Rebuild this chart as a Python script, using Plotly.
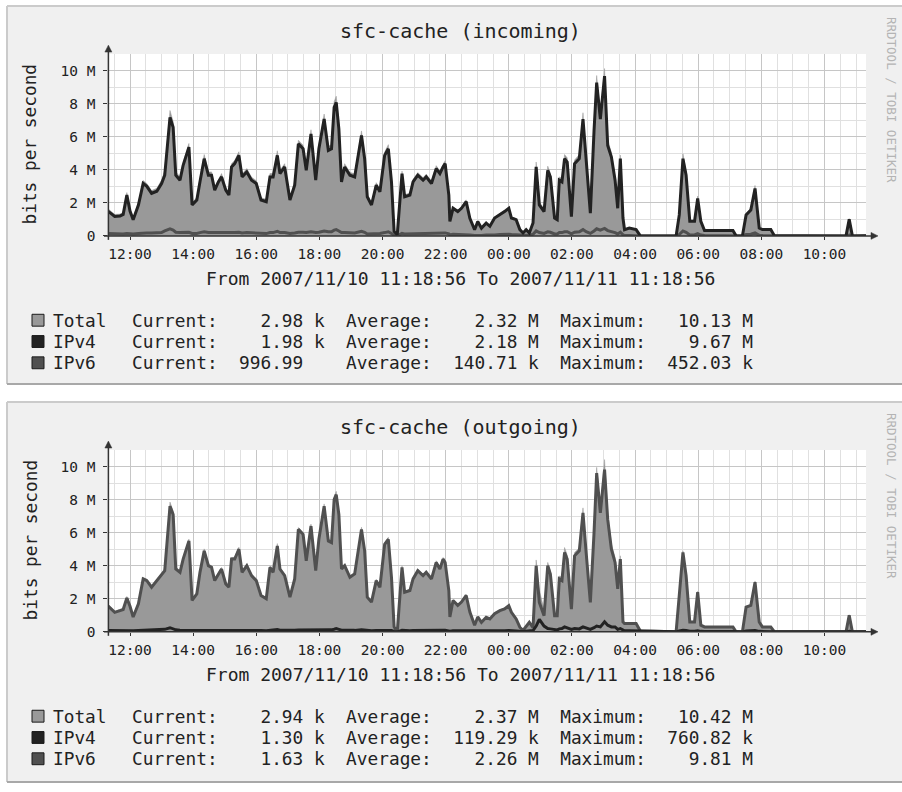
import pandas as pd
import plotly.graph_objects as go

W, H = 902, 792
MONO = "DejaVu Sans Mono"

# ---- samples (clock time, Mbit/s) ---------------------------------------
clock = [
    "11:18", "11:31", "11:41", "11:47", "11:54", "12:00", "12:06", "12:16", "12:25", "12:32",
    "12:41", "12:51", "13:00", "13:06", "13:16", "13:22", "13:27", "13:35", "13:41", "13:52",
    "13:58", "14:07", "14:13", "14:21", "14:29", "14:35", "14:41", "14:48", "14:54", "15:02",
    "15:08", "15:13", "15:19", "15:27", "15:33", "15:42", "15:51", "16:00", "16:09", "16:19",
    "16:26", "16:32", "16:40", "16:45", "16:54", "17:04", "17:13", "17:20", "17:29", "17:35",
    "17:44", "17:53", "17:59", "18:09", "18:17", "18:23", "18:28", "18:32", "18:37", "18:42",
    "18:48", "18:58", "19:07", "19:20", "19:26", "19:31", "19:39", "19:48", "19:55", "20:04",
    "20:11", "20:17", "20:22", "20:28", "20:37", "20:42", "20:52", "20:58", "21:07", "21:17",
    "21:23", "21:33", "21:42", "21:49", "21:55", "21:59", "22:06", "22:08", "22:14", "22:23",
    "22:30", "22:39", "22:46", "22:55", "23:01", "23:08", "23:17", "23:24", "23:33", "23:43",
    "23:52", "00:00", "00:05", "00:14", "00:21", "00:27", "00:33", "00:39", "00:46", "00:52",
    "00:58", "01:07", "01:14", "01:19", "01:27", "01:32", "01:36", "01:41", "01:46", "01:51",
    "01:59", "02:05", "02:14", "02:21", "02:27", "02:35", "02:42", "02:47", "02:54", "03:02",
    "03:08", "03:15", "03:22", "03:27", "03:32", "03:37", "03:40", "03:49", "04:02", "04:10",
    "05:18", "05:24", "05:31", "05:37", "05:44", "05:53", "05:59", "06:05", "06:12", "07:06",
    "07:12", "07:24", "07:31", "07:40", "07:48", "07:56", "08:02", "08:18", "08:25", "10:41",
    "10:47", "10:53", "11:19",
]

in_ipv4 = [
    1.50, 1.18, 1.20, 1.30, 2.47, 1.50, 0.98, 1.87, 3.17, 3.00,
    2.57, 2.70, 3.17, 3.67, 7.17, 6.57, 3.67, 3.37, 4.27, 5.37,
    1.87, 2.17, 3.27, 4.67, 3.67, 3.67, 2.77, 3.27, 3.57, 2.77,
    2.47, 4.17, 4.37, 4.87, 3.57, 3.87, 3.37, 3.17, 2.17, 2.07,
    3.57, 3.57, 4.87, 3.77, 4.17, 2.17, 3.07, 5.57, 5.27, 3.97,
    6.17, 3.37, 5.27, 7.07, 5.17, 5.27, 7.77, 8.07, 6.47, 3.27,
    4.17, 3.67, 3.57, 6.07, 4.67, 2.37, 1.87, 3.07, 2.67, 4.87,
    5.27, 3.27, 0.27, 0.07, 3.77, 2.37, 2.47, 3.27, 3.67, 3.37,
    3.57, 3.17, 4.07, 3.77, 4.17, 4.37, 2.47, 0.87, 1.67, 1.47,
    1.67, 2.07, 1.07, 0.37, 0.87, 0.47, 0.77, 0.58, 1.08, 1.27,
    1.47, 1.67, 1.08, 0.98, 0.38, 0.18, 0.38, 0.18, 0.78, 4.17,
    1.87, 1.47, 3.97, 3.57, 1.08, 0.98, 3.37, 3.27, 4.67, 4.47,
    1.17, 4.37, 4.67, 7.07, 4.47, 1.37, 6.37, 9.27, 7.07, 9.67,
    5.47, 4.77, 3.37, 1.67, 4.67, 1.08, 0.38, 0.48, 0.38, 0.00,
    0.00, 1.27, 4.67, 3.67, 0.88, 0.88, 2.27, 0.88, 0.32, 0.32,
    0.00, 0.00, 1.27, 1.57, 2.87, 0.48, 0.38, 0.38, 0.00, 0.00,
    1.00, 0.00, 0.00198,
]

in_ipv6 = [
    0.15, 0.12, 0.12, 0.12, 0.15, 0.13, 0.12, 0.15, 0.18, 0.17,
    0.17, 0.18, 0.20, 0.30, 0.42, 0.35, 0.22, 0.20, 0.20, 0.22,
    0.15, 0.15, 0.20, 0.25, 0.20, 0.20, 0.18, 0.18, 0.20, 0.17,
    0.16, 0.20, 0.20, 0.22, 0.18, 0.20, 0.18, 0.17, 0.14, 0.14,
    0.20, 0.20, 0.28, 0.20, 0.20, 0.15, 0.18, 0.22, 0.22, 0.20,
    0.25, 0.20, 0.22, 0.30, 0.25, 0.25, 0.35, 0.38, 0.30, 0.20,
    0.20, 0.18, 0.18, 0.28, 0.22, 0.12, 0.12, 0.15, 0.15, 0.20,
    0.25, 0.15, 0.03, 0.00, 0.15, 0.12, 0.13, 0.15, 0.16, 0.15,
    0.16, 0.15, 0.18, 0.16, 0.18, 0.18, 0.12, 0.05, 0.10, 0.09,
    0.10, 0.11, 0.06, 0.03, 0.05, 0.03, 0.05, 0.04, 0.06, 0.08,
    0.10, 0.10, 0.08, 0.06, 0.03, 0.02, 0.03, 0.02, 0.10, 0.30,
    0.20, 0.15, 0.25, 0.22, 0.12, 0.12, 0.20, 0.20, 0.25, 0.25,
    0.12, 0.22, 0.25, 0.38, 0.25, 0.15, 0.30, 0.43, 0.35, 0.45203,
    0.32, 0.28, 0.20, 0.12, 0.22, 0.06, 0.03, 0.03, 0.02, 0.00,
    0.00, 0.08, 0.30, 0.22, 0.06, 0.06, 0.14, 0.05, 0.02, 0.02,
    0.00, 0.00, 0.08, 0.10, 0.18, 0.03, 0.02, 0.02, 0.00, 0.00,
    0.05, 0.00, 0.000997,
]

out_ipv4 = [
    0.08, 0.07, 0.08, 0.08, 0.09, 0.08, 0.07, 0.08, 0.09, 0.09,
    0.09, 0.10, 0.10, 0.15, 0.25, 0.20, 0.12, 0.10, 0.10, 0.11,
    0.08, 0.08, 0.09, 0.12, 0.10, 0.10, 0.09, 0.09, 0.10, 0.09,
    0.08, 0.10, 0.11, 0.12, 0.10, 0.10, 0.09, 0.09, 0.08, 0.07,
    0.09, 0.09, 0.14, 0.10, 0.09, 0.08, 0.09, 0.11, 0.11, 0.10,
    0.12, 0.10, 0.11, 0.14, 0.12, 0.12, 0.16, 0.20, 0.15, 0.10,
    0.10, 0.09, 0.09, 0.13, 0.11, 0.07, 0.07, 0.08, 0.08, 0.10,
    0.12, 0.08, 0.02, 0.00, 0.09, 0.07, 0.07, 0.08, 0.09, 0.08,
    0.09, 0.08, 0.10, 0.09, 0.10, 0.10, 0.07, 0.04, 0.06, 0.06,
    0.06, 0.07, 0.05, 0.03, 0.04, 0.03, 0.04, 0.04, 0.05, 0.06,
    0.07, 0.08, 0.06, 0.05, 0.03, 0.02, 0.03, 0.05, 0.08, 0.35,
    0.76082, 0.35, 0.20, 0.18, 0.12, 0.12, 0.18, 0.20, 0.30, 0.25,
    0.15, 0.20, 0.18, 0.30, 0.22, 0.15, 0.25, 0.35, 0.30, 0.61,
    0.40, 0.30, 0.30, 0.15, 0.20, 0.10, 0.06, 0.06, 0.05, 0.02,
    0.00, 0.05, 0.10, 0.08, 0.04, 0.04, 0.06, 0.03, 0.02, 0.02,
    0.00, 0.00, 0.05, 0.05, 0.08, 0.03, 0.02, 0.02, 0.00, 0.00,
    0.04, 0.00, 0.0013,
]

out_ipv6 = [
    1.58, 1.18, 1.28, 1.35, 2.05, 1.55, 0.90, 1.70, 3.20, 3.10,
    2.70, 3.10, 3.40, 3.70, 7.60, 7.10, 3.80, 3.60, 4.40, 5.50,
    1.90, 2.30, 3.60, 4.90, 4.00, 3.90, 3.10, 3.50, 3.80, 2.90,
    2.70, 4.40, 4.40, 5.00, 3.60, 4.00, 3.40, 3.10, 2.20, 2.00,
    3.90, 3.60, 5.20, 3.80, 3.40, 2.10, 3.20, 6.20, 5.90, 4.30,
    6.40, 3.70, 5.60, 7.60, 5.50, 5.40, 8.00, 8.30, 7.10, 3.80,
    4.00, 3.30, 3.50, 6.20, 4.90, 2.10, 1.80, 3.10, 2.70, 5.30,
    5.60, 3.30, 0.30, 0.00, 3.90, 2.40, 2.50, 3.20, 3.70, 3.40,
    3.60, 3.20, 4.20, 3.80, 4.40, 4.20, 2.50, 0.90, 1.90, 1.60,
    1.80, 2.20, 1.20, 0.40, 0.90, 0.58, 0.88, 0.78, 1.10, 1.28,
    1.38, 1.58, 1.18, 0.78, 0.28, 0.08, 0.30, 0.58, 0.25, 4.00,
    1.78, 0.98, 4.00, 3.50, 0.98, 0.98, 3.20, 3.10, 4.80, 4.40,
    1.38, 4.60, 4.90, 7.20, 4.80, 1.78, 6.00, 9.60, 7.20, 9.81,
    6.80, 5.00, 4.20, 2.60, 4.40, 0.60, 0.50, 0.50, 0.50, 0.05,
    0.00, 2.20, 4.80, 3.40, 0.60, 0.60, 2.40, 0.40, 0.30, 0.30,
    0.00, 0.00, 1.50, 1.60, 3.00, 0.60, 0.30, 0.30, 0.00, 0.00,
    1.00, 0.00, 0.00163,
]

# ---- axis labels and legend statistics ----------------------------------
y_tick_vals = [0, 2, 4, 6, 8, 10]
y_tick_text = ["0", "2 M", "4 M", "6 M", "8 M", "10 M"]
titles = ["sfc-cache (incoming)", "sfc-cache (outgoing)"]
period_text = "From 2007/11/10 11:18:56 To 2007/11/11 11:18:56"
y_title = "bits per second"
watermark = "RRDTOOL / TOBI OETIKER"
legend_names = ["Total", "IPv4", "IPv6"]

in_current = [(2.98, "k"), (1.98, "k"), (996.99, "")]
in_average = [(2.32, "M"), (2.18, "M"), (140.71, "k")]
in_maximum = [(10.13, "M"), (9.67, "M"), (452.03, "k")]
out_current = [(2.94, "k"), (1.30, "k"), (1.63, "k")]
out_average = [(2.37, "M"), (119.29, "k"), (2.26, "M")]
out_maximum = [(10.42, "M"), (760.82, "k"), (9.81, "M")]

START = pd.Timestamp("2007-11-10 11:18:56")
END = pd.Timestamp("2007-11-11 11:18:56")

# ---- styling -------------------------------------------------------------
BACK = "#f0f0f0"
AREA = "#999999"
V4_COLOR = "#222222"
V6_COLOR = "#505050"
GRID_MAJOR = "#c6c6c6"
GRID_MINOR = "#e0e0e0"
AXIS = "#333333"
TEXT = "#222222"
LEGEND_COLORS = [AREA, V4_COLOR, V6_COLOR]
LINE_W = 3.0


def stamps(labels):
    """Turn HH:MM labels into timestamps, rolling over at midnight."""
    day = START.normalize()
    out, prev = [], None
    for lab in labels:
        h, m = (int(p) for p in lab.split(":"))
        t = day + pd.Timedelta(hours=h, minutes=m)
        if prev is not None and t < prev:
            day += pd.Timedelta(days=1)
            t += pd.Timedelta(days=1)
        out.append(t)
        prev = t
    return out


def px(x):
    return x / W


def py(y):
    return 1 - y / H


def fmt(value, prefix):
    return f"{value:8.2f} {prefix if prefix else ' '}"


times = stamps(clock)

panels = [
    dict(title=titles[0], v4=in_ipv4, v6=in_ipv6,
         cur=in_current, avg=in_average, mx=in_maximum, off=0, bottom=388),
    dict(title=titles[1], v4=out_ipv4, v6=out_ipv6,
         cur=out_current, avg=out_average, mx=out_maximum, off=400, bottom=790),
]

PLOT_L, PLOT_R = 108.4, 866.0
PLOT_T, PLOT_B = 54.6, 238.3

fig = go.Figure()
shapes, annotations = [], []
layout_axes = {}

for i, p in enumerate(panels):
    off = p["off"]
    sfx = "" if i == 0 else str(i + 1)
    xa, ya = "x" + sfx, "y" + sfx
    top, bot = PLOT_T + off, PLOT_B + off

    total = [a + b for a, b in zip(p["v4"], p["v6"])]
    fig.add_trace(go.Scatter(
        x=times, y=total, mode="lines", line=dict(width=0.5, color=AREA),
        fill="tozeroy", fillcolor=AREA, xaxis=xa, yaxis=ya, hoverinfo="skip"))
    fig.add_trace(go.Scatter(
        x=times, y=p["v6"], mode="lines", line=dict(width=LINE_W, color=V6_COLOR),
        xaxis=xa, yaxis=ya, hoverinfo="skip"))
    fig.add_trace(go.Scatter(
        x=times, y=p["v4"], mode="lines", line=dict(width=LINE_W, color=V4_COLOR),
        xaxis=xa, yaxis=ya, hoverinfo="skip"))

    layout_axes["xaxis" + sfx] = dict(
        type="date", range=[START, END], domain=[px(PLOT_L), px(PLOT_R)],
        anchor=ya, tick0="2007-11-10 12:00:00", dtick=2 * 3600 * 1000,
        tickformat="%H:%M", showgrid=True, gridcolor=GRID_MAJOR, gridwidth=1,
        minor=dict(tick0="2007-11-10 11:30:00", dtick=1800 * 1000, showgrid=True,
                   gridcolor=GRID_MINOR, gridwidth=1),
        ticks="outside", ticklen=3, tickcolor=AXIS, tickwidth=1,
        ticklabelstandoff=2,
        tickfont=dict(family=MONO, size=14.5, color=TEXT),
        showline=False, zeroline=False, fixedrange=True)
    layout_axes["yaxis" + sfx] = dict(
        range=[0, 11], domain=[py(bot), py(top)], anchor=xa,
        tickmode="array", tickvals=y_tick_vals, ticktext=y_tick_text,
        showgrid=True, gridcolor=GRID_MAJOR, gridwidth=1,
        minor=dict(tick0=0, dtick=1, showgrid=True, gridcolor=GRID_MINOR, gridwidth=1),
        ticks="outside", ticklen=4, tickcolor=AXIS, tickwidth=1,
        ticklabelstandoff=5,
        tickfont=dict(family=MONO, size=14.5, color=TEXT),
        showline=False, zeroline=False, fixedrange=True)

    # canvas and frame
    ptop = 6 + off
    shapes.append(dict(type="rect", xref="paper", yref="paper", layer="below",
                       x0=px(7), x1=px(905), y0=py(p["bottom"]), y1=py(ptop),
                       fillcolor=BACK, line=dict(width=0)))
    shapes.append(dict(type="line", xref="paper", yref="paper", layer="below",
                       x0=px(7), x1=px(905), y0=py(ptop), y1=py(ptop),
                       line=dict(color="#cbcbcb", width=2)))
    shapes.append(dict(type="line", xref="paper", yref="paper", layer="below",
                       x0=px(7), x1=px(7), y0=py(p["bottom"]), y1=py(ptop),
                       line=dict(color="#cbcbcb", width=2)))
    shapes.append(dict(type="line", xref="paper", yref="paper", layer="below",
                       x0=px(7), x1=px(905), y0=py(p["bottom"]), y1=py(p["bottom"]),
                       line=dict(color="#a8a8a8", width=2)))
    shapes.append(dict(type="rect", xref="paper", yref="paper", layer="below",
                       x0=px(PLOT_L), x1=px(PLOT_R), y0=py(bot), y1=py(top),
                       fillcolor="#ffffff", line=dict(width=0)))

    # axes with arrow heads
    shapes.append(dict(type="line", xref="paper", yref="paper", layer="above",
                       x0=px(104), x1=px(873), y0=py(bot), y1=py(bot),
                       line=dict(color=AXIS, width=1.5)))
    shapes.append(dict(type="line", xref="paper", yref="paper", layer="above",
                       x0=px(PLOT_L), x1=px(PLOT_L), y0=py(bot + 4), y1=py(top - 4),
                       line=dict(color=AXIS, width=1.5)))
    shapes.append(dict(type="path", xref="paper", yref="paper", layer="above",
                       path=(f"M {px(878)},{py(bot)} L {px(871)},{py(bot - 3.5)} "
                             f"L {px(871)},{py(bot + 3.5)} Z"),
                       fillcolor=AXIS, line=dict(color=AXIS, width=0.5)))
    shapes.append(dict(type="path", xref="paper", yref="paper", layer="above",
                       path=(f"M {px(PLOT_L)},{py(top - 9)} L {px(PLOT_L - 3.5)},{py(top - 2)} "
                             f"L {px(PLOT_L + 3.5)},{py(top - 2)} Z"),
                       fillcolor=AXIS, line=dict(color=AXIS, width=0.5)))

    # texts
    annotations.append(dict(text=p["title"], x=px(460), y=py(31 + off), xref="paper",
                            yref="paper", xanchor="center", yanchor="middle",
                            showarrow=False, font=dict(family=MONO, size=20, color=TEXT)))
    annotations.append(dict(text=y_title, x=px(30), y=py(146 + off), xref="paper",
                            yref="paper", xanchor="center", yanchor="middle",
                            textangle=-90, showarrow=False,
                            font=dict(family=MONO, size=17.8, color=TEXT)))
    annotations.append(dict(text=period_text, x=px(460), y=py(281.5 + off), xref="paper",
                            yref="paper", xanchor="center", yanchor="middle",
                            showarrow=False, font=dict(family=MONO, size=18, color=TEXT)))
    annotations.append(dict(text=watermark, x=px(891), y=py(101 + off), xref="paper",
                            yref="paper", xanchor="center", yanchor="middle",
                            textangle=90, showarrow=False,
                            font=dict(family=MONO, size=12.5, color="#b4b4b4")))

    row_y = [323.5, 345.0, 366.5]
    for k, name in enumerate(legend_names):
        ry = row_y[k] + off
        shapes.append(dict(type="rect", xref="paper", yref="paper", layer="above",
                           x0=px(32), x1=px(44), y0=py(ry + 6), y1=py(ry - 6),
                           fillcolor=LEGEND_COLORS[k], line=dict(color="#1a1a1a", width=1)))
        annotations.append(dict(text=name, x=px(51), y=py(ry), xref="paper", yref="paper",
                                xanchor="left", yanchor="middle", showarrow=False,
                                font=dict(family=MONO, size=17.8, color=TEXT)))
        row = (f"Current:{fmt(*p['cur'][k])}  Average:{fmt(*p['avg'][k])}  "
               f"Maximum:{fmt(*p['mx'][k])}")
        annotations.append(dict(text=row.replace(" ", "\u00a0"), x=px(130), y=py(ry),
                                xref="paper", yref="paper", xanchor="left",
                                yanchor="middle", showarrow=False,
                                font=dict(family=MONO, size=17.8, color=TEXT)))

fig.update_layout(
    width=W, height=H, margin=dict(l=0, r=0, t=0, b=0),
    paper_bgcolor="#ffffff", plot_bgcolor="rgba(0,0,0,0)",
    showlegend=False, shapes=shapes, annotations=annotations,
    font=dict(family=MONO, color=TEXT), **layout_axes)

fig.write_html("out.html", config=dict(displayModeBar=False, staticPlot=True))
